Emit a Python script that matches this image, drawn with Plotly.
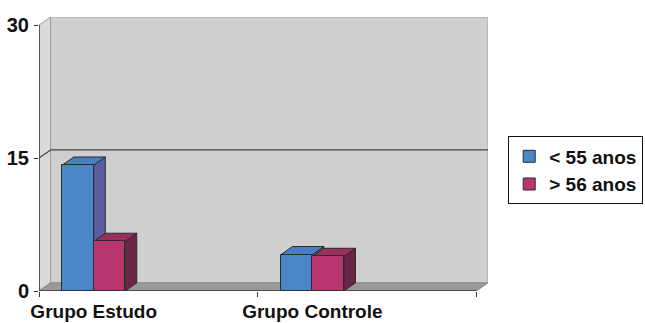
import plotly.graph_objects as go

# Data
categories = ["Grupo Estudo", "Grupo Controle"]
series_names = ["< 55 anos", "> 56 anos"]
under_55 = [14.2, 4.1]
over_56 = [5.6, 3.9]
y_ticks = [0, 15, 30]

# Styling
front_colors = ["#4a86c8", "#b8376f"]
side_colors = ["#5a5e9e", "#6b2646"]
top_colors = ["#4b7dc3", "#9a2f5e"]
outline = "#2b2b2b"
FAMILY = "Liberation Sans, Arial, sans-serif"
FONT = dict(family=FAMILY, size=19, color="#111111", weight="bold")

BAR_W = 0.144          # width of one column in category units
DX, DY = 0.053, 0.92   # depth offset of the 3D box (x units, y units)
X_LEFT, X_RIGHT = -0.25, 1.75   # front edges of the category axis
Y_MAX = 30

fig = go.Figure()

values = [under_55, over_56]
offsets = [-BAR_W, 0.0]
for name, vals, col, off in zip(series_names, values, front_colors, offsets):
    fig.add_trace(go.Bar(
        x=list(range(len(categories))), y=vals, name=name,
        width=BAR_W, offset=off,
        marker=dict(color=col, line=dict(color=outline, width=1)),
    ))

shapes = []

def poly(pts, fill, line_color, line_width=1, layer="below"):
    d = "M " + " L ".join(f"{x},{y}" for x, y in pts) + " Z"
    return dict(type="path", path=d, xref="x", yref="y", fillcolor=fill,
                line=dict(color=line_color, width=line_width), layer=layer)

# Left side wall
shapes.append(poly([(X_LEFT, 0), (X_LEFT + DX, DY), (X_LEFT + DX, Y_MAX + DY), (X_LEFT, Y_MAX)],
                   "#dadada", "#9a9a9a"))
# Back wall
shapes.append(poly([(X_LEFT + DX, DY), (X_RIGHT + DX, DY), (X_RIGHT + DX, Y_MAX + DY), (X_LEFT + DX, Y_MAX + DY)],
                   "#cfcfcf", "#a0a0a0"))
# Gridline at the middle tick on the back wall and side wall
for t in y_ticks[1:-1]:
    shapes.append(dict(type="line", xref="x", yref="y", x0=X_LEFT + DX, x1=X_RIGHT + DX,
                       y0=t + DY, y1=t + DY, line=dict(color="#444444", width=1.2), layer="below"))
    shapes.append(dict(type="line", xref="x", yref="y", x0=X_LEFT, x1=X_LEFT + DX,
                       y0=t, y1=t + DY, line=dict(color="#444444", width=1.2), layer="below"))
# Floor
shapes.append(poly([(X_LEFT, 0), (X_RIGHT, 0), (X_RIGHT + DX, DY), (X_LEFT + DX, DY)],
                   "#999999", "#8a8a8a"))

# Column sides and tops, derived from the values
for vals, off, sc, tc in zip(values, offsets, side_colors, top_colors):
    for i, v in enumerate(vals):
        x0 = i + off
        x1 = x0 + BAR_W
        shapes.append(poly([(x1, 0), (x1 + DX, DY), (x1 + DX, v + DY), (x1, v)], sc, outline))
        shapes.append(poly([(x0, v), (x1, v), (x1 + DX, v + DY), (x0 + DX, v + DY)], tc, outline))

# Front axis lines
shapes.append(dict(type="line", xref="x", yref="y", x0=X_LEFT, x1=X_RIGHT, y0=0, y1=0,
                   line=dict(color="#333333", width=1.5), layer="above"))
shapes.append(dict(type="line", xref="x", yref="y", x0=X_LEFT, x1=X_LEFT, y0=0, y1=Y_MAX,
                   line=dict(color="#333333", width=1.5), layer="above"))

fig.update_layout(
    width=645, height=323,
    margin=dict(l=39, r=157, t=17, b=32, autoexpand=False),
    paper_bgcolor="white", plot_bgcolor="white",
    font=FONT,
    shapes=shapes,
    bargap=0, barmode="overlay",
    showlegend=True,
    legend=dict(x=1.045, xanchor="left", y=0.44, yanchor="middle",
                bordercolor="#111111", borderwidth=1, bgcolor="white",
                font=FONT, itemwidth=30, tracegroupgap=0),
    xaxis=dict(range=[X_LEFT, X_RIGHT + DX], tickvals=list(range(len(categories))),
               ticktext=categories, ticks="", showgrid=False, zeroline=False, showline=False,
               ticklabelstandoff=7, automargin=False,
               minor=dict(tick0=X_LEFT, dtick=1, ticks="outside", ticklen=5,
                          tickcolor="#333333", showgrid=False),
               fixedrange=True),
    yaxis=dict(range=[0, Y_MAX + DY], tickvals=y_ticks, ticks="outside", ticklen=4,
               tickcolor="#333333", showgrid=False, zeroline=False, showline=False,
               tickfont=dict(family=FAMILY, size=20, color="#111111", weight="bold"),
               ticklabelstandoff=1, automargin=False, fixedrange=True),
)

fig.write_html("out.html")
